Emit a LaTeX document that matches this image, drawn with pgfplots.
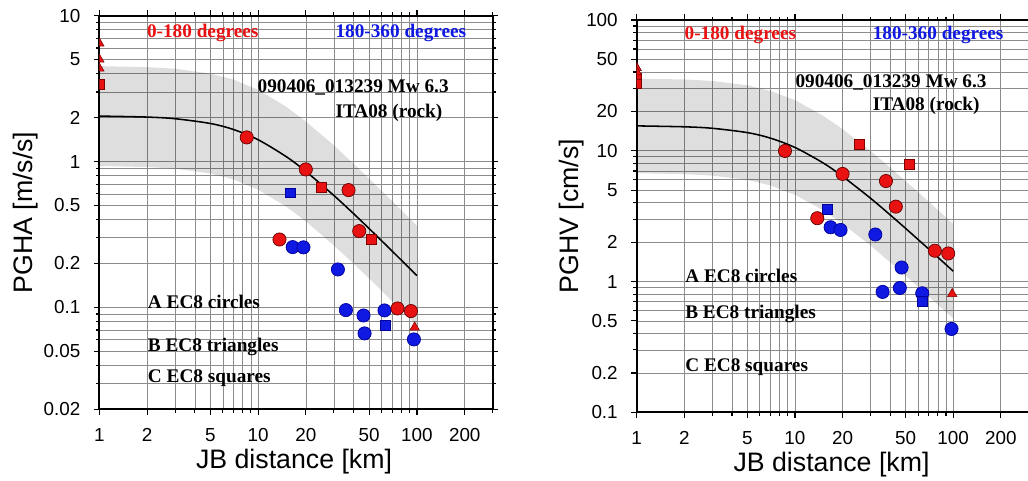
\documentclass[border=0pt]{standalone}
\usepackage{fontspec}
\setmainfont{Liberation Serif}
\setsansfont{Liberation Sans}
\usepackage{pgfplots}
\pgfplotsset{compat=1.18}
\definecolor{myred}{RGB}{232,18,18}
\definecolor{myblue}{RGB}{15,25,225}

\pgfplotsset{
  redcirc/.style={only marks, mark=*, mark size=4.7pt, mark options={fill=myred, draw=red!40!black, line width=0.5pt}},
  redsq/.style={only marks, mark=square*, mark size=3.5pt, mark options={fill=myred, draw=red!50!black, line width=0.4pt}},
  redtri/.style={only marks, mark=triangle*, mark size=3.9pt, mark options={fill=myred, draw=red!50!black, line width=0.4pt}},
  bluecirc/.style={only marks, mark=*, mark size=4.7pt, mark options={fill=myblue, draw=blue!60!black, line width=0.5pt}},
  bluesq/.style={only marks, mark=square*, mark size=3.5pt, mark options={fill=myblue, draw=blue!60!black, line width=0.4pt}},
  bandfill/.style={fill=black, fill opacity=0.13, draw=none},
}
\tikzset{ann/.style={font=\bfseries\fontsize{13.7}{16}\selectfont, anchor=west, inner sep=0pt}}

\begin{document}
\begin{tikzpicture}
\path[use as bounding box] (0,0) rectangle (25.7,12);

% ---------- left: PGHA ----------
\begin{axis}[
  scale only axis,
  at={(2.4825cm,1.7675cm)}, anchor=south west,
  width=9.835cm, height=9.84cm,
  xmode=log, ymode=log,
  xmin=1, xmax=300,
  ymin=0.02, ymax=10,
  xtick={1,2,5,10,20,50,100,200},
  xticklabels={1,2,5,10,20,50,100,200},
  minor xtick={3,4,6,7,8,9,30,40,60,70,80,90,300},
  ytick={0.02,0.05,0.1,0.2,0.5,1,2,5,10},
  yticklabels={0.02,0.05,0.1,0.2,0.5,1,2,5,10},
  minor ytick={0.03,0.04,0.06,0.07,0.08,0.09,0.3,0.4,0.6,0.7,0.8,0.9,3,4,6,7,8,9},
  grid=both,
  major grid style={black!45, line width=0.5pt},
  minor grid style={black!45, line width=0.5pt},
  axis line style={black, line width=1.3pt},
  tick style={black, line width=0.8pt},
  tick align=outside,
  major tick length=4pt, minor tick length=2.5pt,
  tick label style={font=\sffamily\fontsize{13.4}{15}\selectfont},
  yticklabel style={xshift=-6pt},
  xticklabel style={yshift=-6pt},
  label style={font=\sffamily\fontsize{19}{22}\selectfont},
  clip marker paths=true,
  xlabel={JB distance [km]},
  ylabel={PGHA [m/s/s]},
  xlabel style={at={(axis description cs:0.495,-0.132)}, anchor=center},
  ylabel style={at={(axis description cs:-0.188,0.5)}, anchor=center},
]
\addplot[bandfill] coordinates {
  (1,4.51)(2,4.44)(3,4.33)(5,4.01)(7,3.65)(10,3.10)(15,2.38)(20,1.88)(30,1.29)(40,0.964)(50,0.763)(70,0.534)(100,0.363)
  (100,0.075)(70,0.110)(50,0.158)(40,0.199)(30,0.266)(20,0.389)(15,0.492)(10,0.641)(7,0.754)(5,0.829)(3,0.894)(2,0.917)(1,0.932)
} --cycle;
\addplot[black, line width=1.1pt, smooth] coordinates {
  (1,2.05)(2,2.018)(3,1.966)(5,1.824)(7,1.658)(10,1.411)(15,1.082)(20,0.855)(30,0.585)(40,0.438)(50,0.347)(70,0.2425)(100,0.165)
};
% blue: 180-360 degrees
\addplot[bluecirc] coordinates {(16.5,0.259)(19.3,0.258)(31.8,0.182)(35.7,0.0958)(46.1,0.088)(46.8,0.0663)(62.5,0.0953)(95.7,0.0603)};
\addplot[bluesq] coordinates {(15.9,0.611)(63.2,0.0756)};
% red: 0-180 degrees
\addplot[redcirc] coordinates {(8.48,1.464)(19.97,0.883)(37.1,0.637)(43.3,0.3335)(13.63,0.292)(75.5,0.0983)(91.7,0.0943)};
\addplot[redsq] coordinates {(1,3.40)(24.95,0.665)(51.5,0.292)};
\addplot[redtri] coordinates {(1,6.46)(1,5.02)(1,4.35)(96.7,0.0729)};

\node[ann, text=myred] at (axis cs:1.99,7.57) {0-180 degrees};
\node[ann, text=myblue] at (axis cs:30.6,7.57) {180-360 degrees};
\node[ann] at (axis cs:9.9,3.22) {090406\_013239 Mw 6.3};
\node[ann] at (axis cs:30.6,2.16) {ITA08 (rock)};
\node[ann] at (axis cs:2.017,0.1086) {A EC8 circles};
\node[ann] at (axis cs:2.017,0.0537) {B EC8 triangles};
\node[ann] at (axis cs:2.017,0.0326) {C EC8 squares};
\end{axis}

% ---------- right: PGHV ----------
\begin{axis}[
  scale only axis,
  at={(15.9175cm,1.6925cm)}, anchor=south west,
  width=9.8cm, height=9.8075cm,
  xmode=log, ymode=log,
  xmin=1, xmax=300,
  ymin=0.1, ymax=100,
  xtick={1,2,5,10,20,50,100,200},
  xticklabels={1,2,5,10,20,50,100,200},
  minor xtick={3,4,6,7,8,9,30,40,60,70,80,90,300},
  ytick={0.1,0.2,0.5,1,2,5,10,20,50,100},
  yticklabels={0.1,0.2,0.5,1,2,5,10,20,50,100},
  minor ytick={0.3,0.4,0.6,0.7,0.8,0.9,3,4,6,7,8,9,30,40,60,70,80,90},
  grid=both,
  major grid style={black!45, line width=0.5pt},
  minor grid style={black!45, line width=0.5pt},
  axis line style={black, line width=1.3pt},
  tick style={black, line width=0.8pt},
  tick align=outside,
  major tick length=4pt, minor tick length=2.5pt,
  tick label style={font=\sffamily\fontsize{13.4}{15}\selectfont},
  yticklabel style={xshift=-6pt},
  xticklabel style={yshift=-6pt},
  label style={font=\sffamily\fontsize{19}{22}\selectfont},
  clip marker paths=true,
  xlabel={JB distance [km]},
  ylabel={PGHV [cm/s]},
  xlabel style={at={(axis description cs:0.497,-0.133)}, anchor=center},
  ylabel style={at={(axis description cs:-0.166,0.5)}, anchor=center},
]
\addplot[bandfill] coordinates {
  (1,35.65)(2,35.1)(3,34.2)(5,31.7)(7,28.7)(10,24.4)(15,18.6)(20,14.65)(30,9.98)(40,7.43)(50,5.87)(70,4.08)(100,2.76)
  (100,0.522)(70,0.771)(50,1.11)(40,1.40)(30,1.89)(20,2.77)(15,3.52)(10,4.61)(7,5.43)(5,5.99)(3,6.46)(2,6.63)(1,6.74)
} --cycle;
\addplot[black, line width=1.1pt, smooth] coordinates {
  (1,15.5)(2,15.25)(3,14.86)(5,13.77)(7,12.49)(10,10.60)(15,8.10)(20,6.37)(30,4.34)(40,3.23)(50,2.55)(70,1.774)(100,1.20)
};
% blue: 180-360 degrees
\addplot[bluecirc] coordinates {(16.8,2.60)(19.42,2.48)(32.2,2.29)(47.2,1.28)(35.8,0.833)(46.0,0.893)(63.7,0.813)(97.6,0.434)};
\addplot[bluesq] coordinates {(16.08,3.59)(64.0,0.703)};
% red: 0-180 degrees
\addplot[redcirc] coordinates {(8.65,9.97)(20.0,6.65)(37.6,5.87)(43.4,3.74)(13.84,3.05)(76.6,1.72)(93.0,1.64)};
\addplot[redsq] coordinates {(1,36)(1,32.5)(25.5,11.27)(52.5,7.93)};
\addplot[redtri] coordinates {(1,43)(1,40)(98.6,0.804)};

\node[ann, text=myred] at (axis cs:2.0,76.8) {0-180 degrees};
\node[ann, text=myblue] at (axis cs:30.9,76.8) {180-360 degrees};
\node[ann] at (axis cs:10.05,33.4) {090406\_013239 Mw 6.3};
\node[ann] at (axis cs:30.9,22.0) {ITA08 (rock)};
\node[ann] at (axis cs:2.02,1.10) {A EC8 circles};
\node[ann] at (axis cs:2.02,0.562) {B EC8 triangles};
\node[ann] at (axis cs:2.02,0.221) {C EC8 squares};
\end{axis}
\end{tikzpicture}
\end{document}
